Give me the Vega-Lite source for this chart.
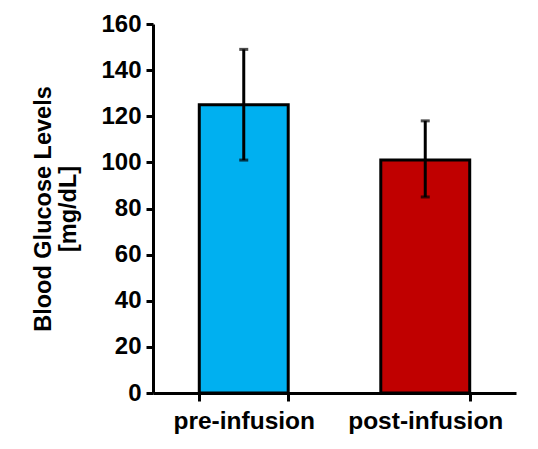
{
  "$schema": "https://vega.github.io/schema/vega-lite/v6.json",
  "autosize": "none",
  "width": 363,
  "height": 369,
  "padding": {"left": 153, "top": 24, "right": 22, "bottom": 56},
  "background": "white",
  "config": {
    "view": {"stroke": null},
    "font": "Liberation Sans",
    "axis": {
      "grid": false,
      "domainColor": "black",
      "domainWidth": 3,
      "tickColor": "black",
      "tickWidth": 3,
      "tickSize": 7,
      "labelFont": "Liberation Sans",
      "labelFontWeight": "bold",
      "labelFontSize": 24,
      "labelColor": "black",
      "titleFont": "Liberation Sans",
      "titleFontWeight": "bold",
      "titleFontSize": 23.5,
      "titleColor": "black"
    }
  },
  "data": {
    "values": [
      {"group": "pre-infusion", "mean": 125, "low": 101, "high": 149, "color": "#00B0F0"},
      {"group": "post-infusion", "mean": 101, "low": 85, "high": 118, "color": "#C00000"}
    ]
  },
  "encoding": {
    "x": {
      "field": "group",
      "type": "nominal",
      "sort": null,
      "scale": {"paddingInner": 0.51, "paddingOuter": 0.255},
      "axis": {"title": null, "labelAngle": 0, "labelPadding": 8, "labelFontSize": 24.5, "tickBand": "extent", "tickSize": 8}
    }
  },
  "layer": [
    {
      "mark": {"type": "bar", "stroke": "black", "strokeWidth": 3},
      "encoding": {
        "y": {
          "field": "mean",
          "type": "quantitative",
          "scale": {"domain": [0, 160]},
          "axis": {"values": [0, 20, 40, 60, 80, 100, 120, 140, 160], "title": ["Blood Glucose Levels", "[mg/dL]"], "titlePadding": 20, "titleLineHeight": 25, "labelPadding": 5}
        },
        "color": {"field": "color", "type": "nominal", "scale": null}
      }
    },
    {
      "mark": {"type": "rule", "color": "black", "strokeWidth": 3},
      "encoding": {
        "y": {"field": "low", "type": "quantitative"},
        "y2": {"field": "high"}
      }
    },
    {
      "mark": {"type": "tick", "color": "black", "thickness": 3, "size": 9, "orient": "horizontal"},
      "encoding": {"y": {"field": "low", "type": "quantitative"}}
    },
    {
      "mark": {"type": "tick", "color": "black", "thickness": 3, "size": 9, "orient": "horizontal"},
      "encoding": {"y": {"field": "high", "type": "quantitative"}}
    }
  ]
}
